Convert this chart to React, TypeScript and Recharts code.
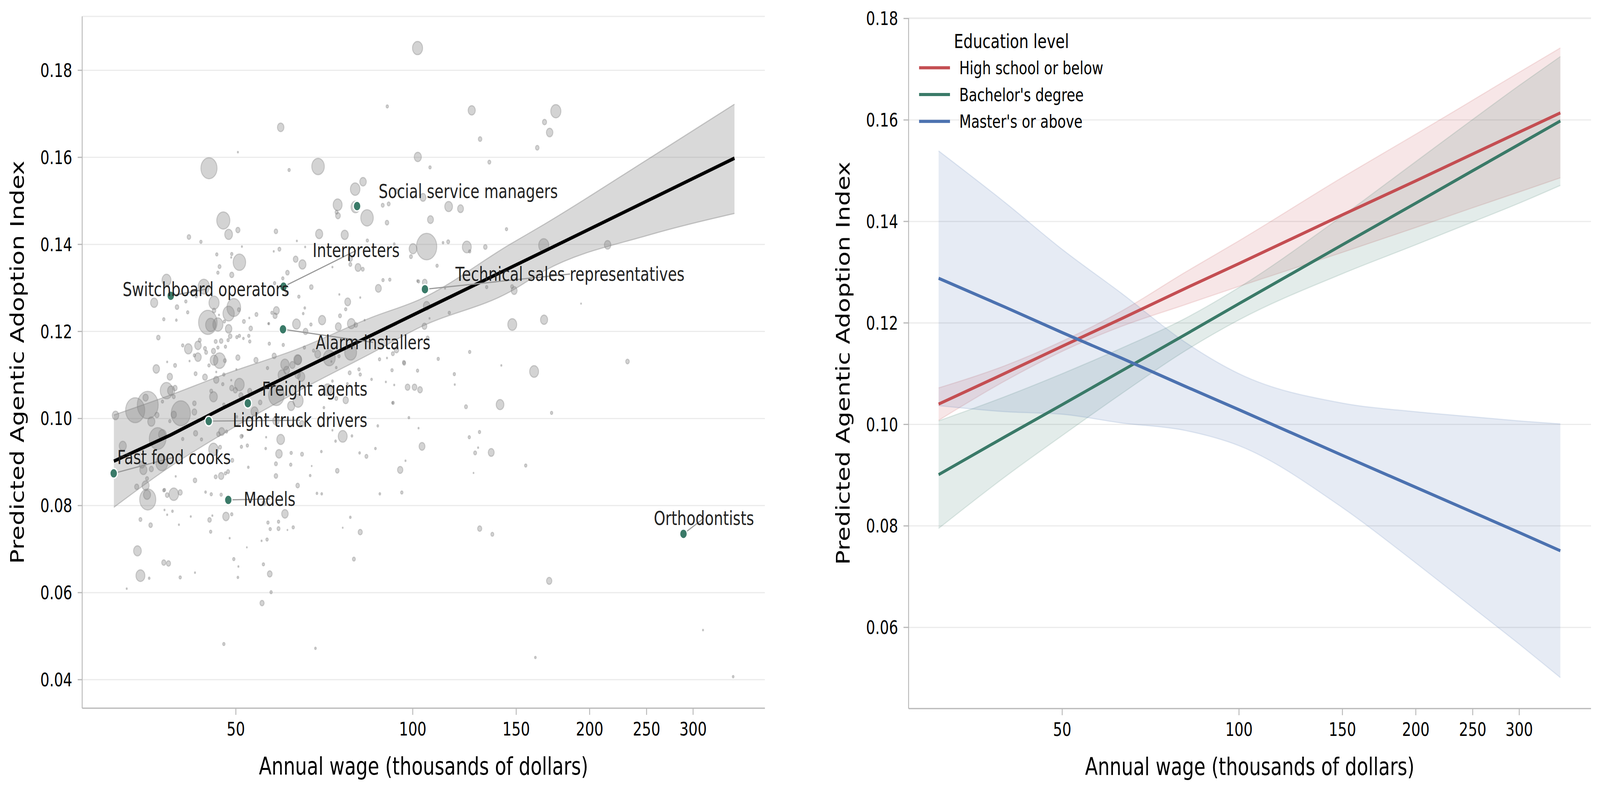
import React from 'react';
import {
  ComposedChart, Scatter, Line, Area, XAxis, YAxis, ZAxis, CartesianGrid, Legend,
} from 'recharts';

const FONT = '"DejaVu Sans", sans-serif';
const GREEN = '#3a7a68';
const RED = '#c44e52';
const BLUE = '#4c72b0';
const AXIS = '#b8b8b8';
const GRID = '#ebebeb';

// ---------- Left panel data ----------
const WAGE_TICKS = [50, 100, 150, 200, 250, 300];
const LEFT_Y_TICKS = [0.04, 0.06, 0.08, 0.1, 0.12, 0.14, 0.16, 0.18];
const RIGHT_Y_TICKS = [0.06, 0.08, 0.1, 0.12, 0.14, 0.16, 0.18];

// [annual wage (k$), predicted index, bubble weight]
const OCCUPATIONS: [number, number, number][] = [
  [101.9,.1851,289],[90.5,.1717,16],[59.6,.1669,121],[50.4,.1612,4],[45.0,.1575,729],[61.6,.1571,16],[69.0,.1579,441],[82.3,.1544,121],[79.8,.1527,256],[74.5,.1491,225],
  [74.2,.1474,25],[74.6,.1466,64],[83.6,.1461,441],[88.9,.1490,25],[91.0,.1493,25],[90.4,.1450,36],[47.6,.1455,484],[48.6,.1423,169],[50.4,.1433,49],[41.6,.1417,36],
  [43.6,.1406,16],[51.2,.1395,4],[58.5,.1430,36],[63.5,.1408,4],[69.3,.1424,144],[76.6,.1422,144],[65.6,.1394,4],[59.3,.1389,25],[58.0,.1384,4],[83.7,.1409,16],
  [78.3,.1367,49],[80.7,.1347,100],[82.2,.1343,25],[78.3,.1354,25],[73.0,.1348,4],[63.2,.1366,64],[64.9,.1354,144],[61.2,.1335,36],[50.7,.1359,441],[49.2,.1378,16],
  [46.4,.1377,16],[46.9,.1349,25],[46.6,.1335,16],[49.2,.1330,49],[38.1,.1318,225],[36.3,.1266,144],[39.7,.1256,36],[41.1,.1269,16],[41.4,.1244,16],[37.7,.1228,16],
  [36.9,.1186,36],[44.1,.1303,361],[45.9,.1266,289],[44.8,.1221,961],[45.3,.1215,289],[46.6,.1216,289],[48.6,.1241,361],[49.6,.1255,529],[48.6,.1206,121],[47.8,.1223,16],
  [51.6,.1223,25],[53.0,.1207,36],[54.2,.1239,25],[56.9,.1218,9],[58.6,.1248,100],[58.3,.1236,49],[57.6,.1243,16],[61.1,.1289,25],[64.0,.1280,16],[67.2,.1302,36],
  [77.5,.1268,100],[76.9,.1251,16],[70.1,.1226,144],[78.6,.1218,169],[80.0,.1215,36],[74.7,.1211,100],[63.4,.1217,169],[67.1,.1216,16],[87.4,.1299,100],[89.0,.1318,16],
  [91.4,.1319,16],[75.0,.1285,4],[72.1,.1139,400],[68.9,.1148,100],[78.4,.1152,400],[63.8,.1135,144],[60.6,.1124,196],[62.4,.1123,81],[58.1,.1144,49],[54.1,.1134,49],
  [50.4,.1140,49],[46.9,.1133,400],[45.9,.1134,169],[43.1,.1141,121],[41.5,.1160,169],[43.1,.1168,121],[44.3,.1161,25],[45.8,.1155,49],[47.2,.1178,36],[46.2,.1177,25],
  [48.0,.1165,16],[50.2,.1187,16],[51.5,.1184,9],[40.6,.1168,16],[36.6,.1114,121],[38.6,.1096,81],[39.4,.1122,25],[38.2,.1130,4],[57.0,.1172,16],[60.2,.1169,16],
  [65.4,.1163,16],[72.7,.1131,4],[87.8,.1136,16],[90.4,.1139,4],[100.1,.1390,169],[99.3,.1372,25],[102.0,.1601,144],[105.6,.1395,1156],[126.0,.1708,144],[175.2,.1706,289],
  [167.6,.1681,49],[171.0,.1657,121],[130.2,.1642,36],[162.9,.1622,36],[107.0,.1577,16],[135.0,.1589,25],[104.1,.1508,100],[115.1,.1487,169],[120.6,.1482,100],[107.2,.1457,100],
  [144.4,.1435,16],[114.9,.1406,25],[112.6,.1404,9],[123.6,.1394,225],[132.9,.1394,36],[167.1,.1398,289],[214.6,.1399,121],[110.0,.1351,16],[102.3,.1315,16],[133.6,.1302,16],
  [147.6,.1303,25],[148.8,.1294,100],[113.5,.1299,4],[105.6,.1259,121],[115.4,.1243,16],[106.8,.1230,4],[104.7,.1212,64],[147.7,.1216,225],[167.3,.1227,144],[193.4,.1264,2.25],
  [106.0,.1185,25],[93.8,.1158,64],[125.0,.1153,16],[110.5,.1137,16],[96.6,.1129,25],[232.0,.1131,36],[160.9,.1108,225],[141.5,.1122,4],[101.9,.1110,16],[117.7,.1102,16],
  [98.0,.1072,64],[100.7,.1072,64],[102.9,.1066,64],[140.8,.1032,169],[123.2,.1027,25],[172.3,.1013,16],[92.6,.1036,16],[98.5,.1002,9],[102.3,.0978,4],[129.9,.0969,16],
  [124.8,.0957,16],[103.7,.0936,100],[129.2,.0933,4],[127.7,.0921,25],[136.0,.0922,100],[97.2,.0903,4],[155.7,.0892,16],[95.2,.0882,81],[126.9,.0875,2.25],[95.8,.0830,16],
  [130.0,.0747,49],[136.6,.0734,25],[170.7,.0627,81],[161.7,.0451,9],[311.9,.0514,4],[351,.0407,9],
  [33.7,.1019,1024],[35.4,.1031,1225],[40.3,.1012,1024],[31.2,.1007,121],[35.9,.0993,144],[36.8,.0954,784],[32.1,.0937,144],[33.9,.0843,49],[35.1,.0846,144],[34.8,.0882,144],
  [35.4,.0814,729],[35.3,.0825,144],[34.4,.0768,25],[35.8,.0755,36],[39.2,.0826,256],[38.2,.0824,36],[40.2,.0830,49],[37.8,.0790,4],[38.2,.0779,4],[39.0,.0787,9],
  [40.0,.0756,4],[41.9,.0775,4],[44.4,.0831,9],[45.1,.0767,36],[45.6,.0777,4],[45.3,.0740,16],[48.1,.0775,121],[49.2,.0780,16],[47.2,.0825,16],[48.8,.0725,4],
  [52.2,.0704,2.25],[55.8,.0806,36],[60.6,.0781,121],[59.1,.0763,16],[56.7,.0761,16],[57.2,.0746,16],[59.1,.0747,25],[62.6,.0750,16],[61.2,.0744,2.25],[56.5,.0722,16],
  [55.3,.0719,4],[56.3,.0957,4],[56.2,.0931,9],[58.5,.0896,25],[58.5,.0868,36],[59.2,.0919,121],[59.6,.0952,169],[62.1,.0921,16],[62.0,.0894,16],[64.8,.0918,25],
  [63.7,.0846,36],[52.5,.0888,9],[51.1,.0935,16],[51.3,.0960,9],[68.7,.0828,9],[70.0,.0827,9],[67.3,.0891,2.25],[66.9,.0869,9],[74.4,.0880,36],[78.3,.0773,9],
  [81.4,.0739,49],[76.0,.0749,2.25],[76.0,.0959,225],[83.4,.0913,25],[78.8,.0960,9],[73.9,.0948,9],[69.9,.0924,9],[64.8,.0988,64],[58.5,.0995,121],[62.1,.1029,144],
  [63.8,.1041,289],[58.6,.1053,676],[76.9,.1042,81],[87.2,.0983,9],[92.4,.1036,9],[87.9,.0827,9],[79.4,.0677,25],[34.0,.0696,169],[34.4,.0639,225],[37.7,.0669,49],
  [38.4,.0667,49],[35.6,.0633,9],[32.6,.0609,4],[40.2,.0635,16],[42.6,.0646,4],[49.6,.0677,16],[50.5,.0660,4],[50.4,.0635,9],[55.7,.0665,16],[57.1,.0643,64],
  [57.4,.0601,16],[55.4,.0576,49],[47.7,.0482,16],[68.3,.0472,9],
  [49.1,.1370,4],[60.1,.1322,16],[58.2,.1311,16],[39.6,.1226,9],[42.8,.1281,16],[45.9,.1248,36],[50.6,.1250,25],[46.8,.1238,4],[52.7,.1231,4],[56.8,.1218,4],
  [48.9,.1189,36],[48.5,.1180,16],[50.7,.1190,16],[52.6,.1190,16],[52.8,.1177,16],[46.6,.1163,16],[44.5,.1152,25],[43.4,.1180,25],[42.5,.1145,16],[41.7,.1132,4],
  [47.9,.1133,25],[45.0,.1122,16],[46.3,.1107,4],[42.7,.1103,25],[44.3,.1095,64],[46.3,.1089,81],[47.7,.1101,16],[47.5,.1079,16],[49.1,.1088,4],[50.1,.1113,4],
  [56.6,.1116,16],[61.0,.1111,100],[63.7,.1135,169],[59.9,.1100,169],[63.7,.1100,81],[55.0,.1037,36],[53.8,.1016,144],[52.8,.1063,49],[51.0,.1053,49],[49.2,.1070,49],
  [49.9,.1065,49],[50.7,.1078,256],[45.4,.1063,25],[45.8,.1050,169],[47.7,.1032,16],[50.2,.1004,9],[47.3,.0970,100],[46.7,.0964,36],[48.2,.0970,16],[51.1,.0959,25],
  [52.3,.0938,16],[49.3,.0904,25],[48.5,.0878,25],[47.2,.0868,81],[46.2,.0866,25],[48.0,.0874,16],[45.4,.0826,16],[42.6,.0858,36],[40.6,.0953,16],[42.7,.0966,49],
  [43.7,.0952,16],[47.0,.0934,25],[45.8,.0929,256],[39.5,.0867,4],[37.8,.0836,16],[35.1,.1048,81],[38.1,.1064,441],[38.8,.1064,144],[39.4,.1070,49],[39.2,.1050,25],
  [37.5,.1039,16],[42.5,.1035,36],[42.5,.1015,64],[39.2,.1009,81],[36.7,.1008,49],[37.5,.0963,169],[38.6,.0994,16],[34.6,.0894,81],[35.9,.0884,49],[37.4,.0898,400],
  [35.3,.0862,25],[37.7,.0835,16],
  [93.0,.1401,9],[125.0,.1384,16],[101.9,.1316,9],[104.8,.1313,64],[81.4,.1278,4],[75.2,.1236,25],[82.8,.1226,4],[65.5,.1254,9],[65.1,.1241,9],[65.7,.1200,64],
  [67.8,.1156,16],[74.9,.1143,16],[74.1,.1117,9],[64.6,.1096,144],[81.0,.1113,16],[81.4,.1101,16],[78.1,.1105,25],[85.1,.1090,9],[92.5,.1149,25],[96.7,.1127,25],
  [92.2,.1111,16],[117.9,.1078,4],[90.0,.1084,4],[93.0,.1077,4],[74.1,.1046,25],[73.0,.1086,9],[77.4,.1080,9],[70.6,.1025,9],[71.6,.1066,225],[73.0,.0973,4],
  [81.2,.0921,9],[86.4,.0931,9],[93.8,.1522,36],[79.9,.1486,225],
];

// Regression fit and 95% band
const FIT_WAGE = [31, 38.7, 47.7, 64.3, 85, 103, 146.3, 167.8, 251.5, 352.8];
const FIT_MEAN = [.0902, .0962, .1025, .1111, .1191, .1246, .1346, .1385, .1501, .1598];
const FIT_LO = [.0796, .0890, .0966, .1065, .1150, .1210, .1291, .1340, .1421, .1471];
const FIT_HI = [.1008, .1054, .1101, .1162, .1232, .1274, .1400, .1447, .1596, .1722];

// Highlighted occupations: [name, wage, index]
const HIGHLIGHTS: [string, number, number][] = [
  ['Fast food cooks', 30.98, 0.0874],
  ['Light truck drivers', 44.96, 0.0994],
  ['Freight agents', 52.4, 0.1035],
  ['Models', 48.54, 0.0813],
  ['Alarm installers', 60.14, 0.1205],
  ['Switchboard operators', 38.74, 0.1282],
  ['Interpreters', 60.27, 0.1303],
  ['Social service managers', 80.4, 0.1488],
  ['Technical sales representatives', 104.9, 0.1297],
  ['Orthodontists', 288.9, 0.0735],
];
// Label anchor (text centre) in data coordinates: [name, wage, index]
const LABEL_ANCHORS: [string, number, number][] = [
  ['Fast food cooks', 39.24, 0.0911],
  ['Light truck drivers', 64.3, 0.0996],
  ['Freight agents', 68.1, 0.1068],
  ['Models', 57.07, 0.0815],
  ['Alarm installers', 85.6, 0.1175],
  ['Switchboard operators', 44.46, 0.1297],
  ['Interpreters', 80.1, 0.1386],
  ['Social service managers', 124.3, 0.1522],
  ['Technical sales representatives', 185.2, 0.1332],
  ['Orthodontists', 313.0, 0.0771],
];
const NO_LEADER = ['Freight agents', 'Social service managers'];

// ---------- Right panel data ----------
const EDU_WAGE = [30.8, 40, 50, 63, 81, 100, 150, 200, 250, 300, 352.5];
const HS_FIT = [.1040, .1101, .1154, .1208, .1268, .1317, .1413, .1480, .1533, .1576, .1614];
const HS_LO = [.1008, .1086, .1144, .1193, .1236, .1272, .1339, .1388, .1427, .1458, .1486];
const HS_HI = [.1072, .1116, .1164, .1223, .1300, .1362, .1487, .1572, .1639, .1694, .1742];
const BA_FIT = [.0901, .0976, .1039, .1105, .1177, .1238, .1354, .1436, .1500, .1552, .1598];
const BA_LO = [.0795, .0897, .0978, .1060, .1145, .1206, .1297, .1354, .1399, .1436, .1471];
const BA_HI = [.1007, .1055, .1100, .1150, .1209, .1270, .1411, .1518, .1601, .1668, .1725];
const MA_FIT = [.1288, .1231, .1181, .1131, .1075, .1029, .0939, .0876, .0827, .0787, .0751];
const MA_LO = [.1037, .1025, .1020, .1003, .0988, .0958, .0836, .0727, .0639, .0567, .0501];
const MA_HI = [.1539, .1437, .1345, .1259, .1162, .1100, .1042, .1025, .1015, .1007, .1001];

const EDU_SERIES = [
  { key: 'hs', name: 'High school or below', color: RED },
  { key: 'ba', name: "Bachelor's degree", color: GREEN },
  { key: 'ma', name: "Master's or above", color: BLUE },
];

// ---------- derived tables ----------
const OCC_ROWS = OCCUPATIONS.map(([wage, idx, z]) => ({ wage, idx, z }));
const FIT_ROWS = FIT_WAGE.map((wage, i) => ({ wage, fit: FIT_MEAN[i], band: [FIT_LO[i], FIT_HI[i]] }));
const HL_ROWS = HIGHLIGHTS.map(([name, wage, idx]) => ({ name, wage, idx }));
const LABEL_ROWS = LABEL_ANCHORS.map(([name, wage, idx]) => ({ name, wage, idx }));
const LEADERS = HIGHLIGHTS.filter(([n]) => !NO_LEADER.includes(n)).map(([name, wage, idx]) => {
  const a = LABEL_ANCHORS.find((l) => l[0] === name)!;
  return { name, rows: [{ wage, v: idx }, { wage: a[1], v: a[2] }] };
});
const EDU_ROWS = EDU_WAGE.map((wage, i) => ({
  wage,
  hs: HS_FIT[i], hsBand: [HS_LO[i], HS_HI[i]],
  ba: BA_FIT[i], baBand: [BA_LO[i], BA_HI[i]],
  ma: MA_FIT[i], maBand: [MA_LO[i], MA_HI[i]],
}));

const X_DOMAIN: [number, number] = [27.38, 397.5];
const tickStyle = { fontSize: 48, fill: '#000', fontFamily: FONT };

const xLabel = (text: string) => (props: any) => {
  const vb = props.viewBox || { x: 0, y: 0, width: 0, height: 0 };
  return (
    <text x={vb.x + vb.width / 2} y={vb.y + 170} textAnchor="middle" fontSize={62} fontFamily={FONT} fill="#000">
      {text}
    </text>
  );
};
const yLabel = (text: string, baseX: number) => (props: any) => {
  const vb = props.viewBox || { x: 0, y: 0, width: 0, height: 0 };
  const x = vb.x + baseX;
  const y = vb.y + vb.height / 2;
  return (
    <text x={x} y={y} transform={`rotate(-90, ${x}, ${y})`} textAnchor="middle" fontSize={62} fontFamily={FONT} fill="#000">
      {text}
    </text>
  );
};

const bubbleShape = (p: any) => {
  const area = typeof p.size === 'number' ? p.size : Math.PI * (p.payload?.z ?? 4);
  const r = Math.sqrt(Math.max(area, 0) / Math.PI);
  return (
    <circle cx={p.cx} cy={p.cy} r={r} fill="#808080" fillOpacity={0.35}
      stroke="#808080" strokeOpacity={0.35} strokeWidth={3} />
  );
};
const highlightShape = (p: any) => (
  <circle cx={p.cx} cy={p.cy} r={12.5} fill={GREEN} stroke="#ffffff" strokeWidth={3.5} />
);
const labelShape = (p: any) => (
  <text x={p.cx} y={p.cy} dy="0.35em" textAnchor="middle" fontSize={49} fontFamily={FONT} fill="#222222">
    {p.payload?.name}
  </text>
);

const EduLegend = () => (
  <svg width={640} height={300} style={{ overflow: 'visible' }}>
    <text x={325} y={63} textAnchor="middle" fontSize={50} fontFamily={FONT} fill="#000">Education level</text>
    {EDU_SERIES.map((s, i) => (
      <g key={s.key}>
        <line x1={17} x2={120} y1={113.5 + i * 68.6} y2={113.5 + i * 68.6} stroke={s.color} strokeWidth={8} />
        <text x={151} y={130 + i * 68.6} fontSize={46} fontFamily={FONT} fill="#000">{s.name}</text>
      </g>
    ))}
  </svg>
);

function LeftPanel() {
  return (
    <ComposedChart width={2667} height={2025} margin={{ top: 42, right: 117, bottom: 0, left: 0 }}>
      <CartesianGrid vertical={false} stroke={GRID} strokeWidth={3} />
      <XAxis dataKey="wage" type="number" scale="log" domain={X_DOMAIN} allowDataOverflow ticks={WAGE_TICKS}
        height={212} tickSize={17} tickMargin={19} tick={tickStyle}
        axisLine={{ stroke: AXIS, strokeWidth: 3 }} tickLine={{ stroke: AXIS, strokeWidth: 3 }}
        label={{ content: xLabel('Annual wage (thousands of dollars)') } as any} />
      <YAxis type="number" domain={[0.03345, 0.19238]} allowDataOverflow ticks={LEFT_Y_TICKS}
        tickFormatter={(v: number) => v.toFixed(2)} width={274} tickSize={15} tickMargin={18} tick={tickStyle}
        axisLine={{ stroke: AXIS, strokeWidth: 3 }} tickLine={{ stroke: AXIS, strokeWidth: 3 }}
        label={{ content: yLabel('Predicted Agentic Adoption Index', 80) } as any} />
      <ZAxis dataKey="z" type="number" domain={[0, 1225]} range={[0, 3848]} />
      <Scatter data={OCC_ROWS} dataKey="idx" shape={bubbleShape} isAnimationActive={false} {...({ zIndex: 300 } as any)} />
      <Area data={FIT_ROWS} dataKey="band" type="monotone" fill="#808080" fillOpacity={0.3}
        stroke="#808080" strokeOpacity={0.4} strokeWidth={3} dot={false} activeDot={false}
        isAnimationActive={false} {...({ zIndex: 350 } as any)} />
      <Line data={FIT_ROWS} dataKey="fit" type="linear" stroke="#000" strokeWidth={9} dot={false} activeDot={false}
        isAnimationActive={false} {...({ zIndex: 500 } as any)} />
      {LEADERS.map((l) => (
        <Line key={l.name} data={l.rows} dataKey="v" type="linear" stroke="#999999" strokeWidth={3}
          dot={false} activeDot={false} isAnimationActive={false} {...({ zIndex: 550 } as any)} />
      ))}
      <Scatter data={HL_ROWS} dataKey="idx" shape={highlightShape} isAnimationActive={false} {...({ zIndex: 600 } as any)} />
      <Scatter data={LABEL_ROWS} dataKey="idx" shape={labelShape} isAnimationActive={false} {...({ zIndex: 700 } as any)} />
    </ComposedChart>
  );
}

function RightPanel() {
  return (
    <ComposedChart width={2667} height={2025} data={EDU_ROWS} margin={{ top: 46, right: 30, bottom: 0, left: 0 }}>
      <CartesianGrid vertical={false} stroke={GRID} strokeWidth={3} />
      <XAxis dataKey="wage" type="number" scale="log" domain={X_DOMAIN} allowDataOverflow ticks={WAGE_TICKS}
        height={211} tickSize={17} tickMargin={19} tick={tickStyle}
        axisLine={{ stroke: AXIS, strokeWidth: 3 }} tickLine={{ stroke: AXIS, strokeWidth: 3 }}
        label={{ content: xLabel('Annual wage (thousands of dollars)') } as any} />
      <YAxis type="number" domain={[0.044, 0.1801]} allowDataOverflow ticks={RIGHT_Y_TICKS}
        tickFormatter={(v: number) => v.toFixed(2)} width={362} tickSize={17} tickMargin={18} tick={tickStyle}
        axisLine={{ stroke: AXIS, strokeWidth: 3 }} tickLine={{ stroke: AXIS, strokeWidth: 3 }}
        label={{ content: yLabel('Predicted Agentic Adoption Index', 166) } as any} />
      {EDU_SERIES.map((s) => (
        <Area key={s.key + 'b'} dataKey={s.key + 'Band'} type="monotone" fill={s.color} fillOpacity={0.14}
          stroke={s.color} strokeOpacity={0.15} strokeWidth={3} dot={false} activeDot={false}
          isAnimationActive={false} />
      ))}
      {EDU_SERIES.map((s) => (
        <Line key={s.key} dataKey={s.key} name={s.name} type="linear" stroke={s.color} strokeWidth={8}
          dot={false} activeDot={false} isAnimationActive={false} />
      ))}
      <Legend layout="vertical" align="center" verticalAlign="middle"
        wrapperStyle={{ position: 'absolute', left: 380, top: 60, width: 640, height: 300 }}
        content={() => <EduLegend />} />
    </ComposedChart>
  );
}

const DESIGN_W = 5334;
const DESIGN_H = 2025;

export default function App() {
  const vw = typeof window !== 'undefined' ? window.innerWidth : DESIGN_W;
  const vh = typeof window !== 'undefined' ? window.innerHeight : DESIGN_H;
  const sx = Math.min(1, vw / DESIGN_W);
  const sy = Math.min(1, vh / DESIGN_H);
  return (
    <div style={{ position: 'fixed', left: 0, top: 0, width: '100vw', height: '100vh', overflow: 'hidden', background: '#fff' }}>
      <div style={{
        position: 'absolute', left: 0, top: 0, width: DESIGN_W, height: DESIGN_H,
        transform: `scale(${sx}, ${sy})`, transformOrigin: '0 0', background: '#fff',
      }}>
        <div style={{ position: 'absolute', left: 0, top: 0 }}>
          <LeftPanel />
        </div>
        <div style={{ position: 'absolute', left: 2667, top: 0 }}>
          <RightPanel />
        </div>
      </div>
    </div>
  );
}
